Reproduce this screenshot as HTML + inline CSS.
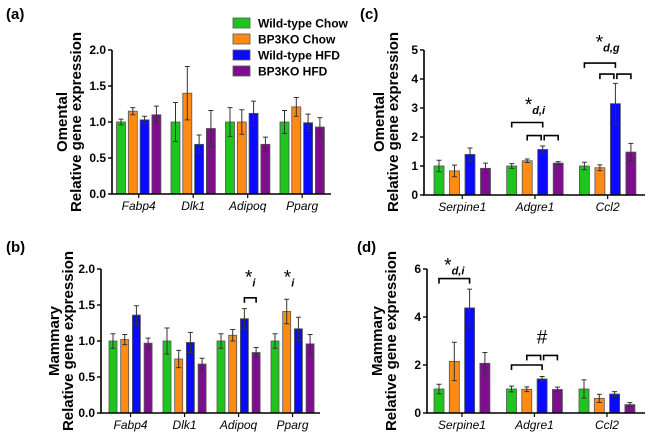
<!DOCTYPE html>
<html><head><meta charset="utf-8">
<style>
html,body{margin:0;padding:0;background:#fff;}
svg{display:block;font-family:"Liberation Sans",Arial,sans-serif;}
</style></head>
<body>
<svg id="fig" width="650" height="437" viewBox="0 0 650 437"></svg>
<script>
const seriesNames = ["Wild-type Chow","BP3KO Chow","Wild-type HFD","BP3KO HFD"];
const genesAB = ["Fabp4","Dlk1","Adipoq","Pparg"];
const genesCD = ["Serpine1","Adgre1","Ccl2"];
// panel (a) omental
const aMean = [[1.0,1.15,1.03,1.10],[1.0,1.40,0.69,0.91],[1.0,1.0,1.12,0.69],[1.0,1.21,0.99,0.93]];
const aErr  = [[0.04,0.05,0.05,0.12],[0.27,0.37,0.13,0.25],[0.2,0.17,0.17,0.1],[0.16,0.13,0.12,0.13]];
// panel (b) mammary
const bMean = [[1.0,1.02,1.36,0.97],[1.0,0.75,0.98,0.68],[1.0,1.08,1.31,0.84],[1.0,1.41,1.17,0.96]];
const bErr  = [[0.1,0.07,0.13,0.07],[0.18,0.12,0.14,0.08],[0.1,0.08,0.14,0.07],[0.1,0.17,0.16,0.13]];
// panel (c) omental
const cMean = [[1.0,0.83,1.4,0.92],[1.0,1.18,1.57,1.1],[1.0,0.94,3.15,1.48]];
const cErr  = [[0.2,0.2,0.22,0.18],[0.08,0.06,0.12,0.05],[0.13,0.1,0.7,0.3]];
// panel (d) mammary
const dMean = [[1.0,2.15,4.38,2.07],[1.0,0.99,1.42,0.98],[1.0,0.61,0.79,0.35]];
const dErr  = [[0.2,0.8,0.78,0.45],[0.12,0.1,0.1,0.1],[0.38,0.17,0.1,0.08]];
const ticksAB = [0,0.5,1.0,1.5,2.0];
const ticksC = [0,1,2,3,4,5];
const ticksD = [0,2,4,6];

const colors = ["#1fc41f","#ff8a14","#0a0aff","#7d0f8c"];
const NS = "http://www.w3.org/2000/svg";
const svg = document.getElementById("fig");
function el(tag, attrs, parent, text){
  const e = document.createElementNS(NS, tag);
  for (const k in attrs) e.setAttribute(k, attrs[k]);
  if (text !== undefined) e.textContent = text;
  (parent||svg).appendChild(e);
  return e;
}

function panel(cfg){
  const g = el("g", {});
  
  
  const Y = v => cfg.y0 - v / cfg.ymax * (cfg.y0 - cfg.ytop);
  const X = (gi, si) => cfg.g0 + gi * cfg.gStep + si * cfg.bStep;
  const lt = el("text", {x: cfg.lx, y: cfg.ly, "font-size": 15, "font-weight": "bold"}, g, "(" + cfg.id + ")");
  
  
  const yl1 = el("text", {x: 0, y: 0, "font-size": 15, "font-weight": "bold", "text-anchor": "middle", transform: `translate(${cfg.yl1x},${cfg.ylc}) rotate(-90)`}, g, cfg.ylab);
  
  
  const yl2 = el("text", {x: 0, y: 0, "font-size": 15, "font-weight": "bold", "text-anchor": "middle", transform: `translate(${cfg.yl2x},${cfg.ylc}) rotate(-90)`}, g, "Relative gene expression");
  
  
  cfg.mean.forEach((grp, gi) => {
    grp.forEach((v, si) => {
      const cx = X(gi, si);
      const r = el("rect", {x: cx - cfg.bw/2, y: Y(v), width: cfg.bw, height: cfg.y0 - Y(v), fill: colors[si], stroke: "#555", "stroke-width": 0.8}, g);
      
      
      const e = cfg.err[gi][si];
      const eb = el("path", {d: `M${cx},${Y(v-e)}V${Y(v+e)}M${cx-2.5},${Y(v-e)}H${cx+2.5}M${cx-2.5},${Y(v+e)}H${cx+2.5}`, stroke: "#333", "stroke-width": 1, fill: "none"}, g);
      
      
    });
    const tx = X(gi, 1.5);
    el("line", {x1: tx, x2: tx, y1: cfg.y0, y2: cfg.y0 + 4, stroke: "#000", "stroke-width": 1.2}, g);
    const cl = el("text", {x: tx, y: cfg.y0 + 16, "font-size": 12, "font-style": "italic", "text-anchor": "middle"}, g, cfg.genes[gi]);
    
    
  });
  const ax = el("path", {d: `M${cfg.ax},${cfg.ytop}V${cfg.y0}H${cfg.axEnd}`, stroke: "#000", "stroke-width": 1.6, fill: "none"}, g);
  
  
  cfg.ticks.forEach(t => {
    el("line", {x1: cfg.ax - 4, x2: cfg.ax, y1: Y(t), y2: Y(t), stroke: "#000", "stroke-width": 1.4}, g);
    const tl = el("text", {x: cfg.ax - 6, y: Y(t) + 4, "font-size": 12, "font-weight": "bold", "text-anchor": "end"}, g, cfg.fmt(t));
    
    
  });
  (cfg.brackets || []).forEach(b => {
    const x1 = X(b[0], b[1]) + (b[4] || 0), x2 = X(b[0], b[2]) + (b[5] || 0), y = Y(b[3]);
    const p = el("path", {d: `M${x1},${y+5}V${y}H${x2}V${y+5}`, stroke: "#000", "stroke-width": 1.6, fill: "none"}, g);
    
    
  });
  (cfg.stars || []).forEach(s => {
    const t = el("text", {x: X(s[0], s[1]), y: Y(s[2]), "font-size": 19, "text-anchor": "middle"}, g);
    
    
    el("tspan", {}, t, s[3]);
    if (s[4]) el("tspan", {"font-size": 11, "font-style": "italic", "font-weight": "bold", dy: 3}, t, s[4]);
  });
}

const f1 = t => t.toFixed(1), f0 = t => String(t);
panel({id:"a", genes:genesAB, mean:aMean, err:aErr, ticks:ticksAB, fmt:f1, ymax:2, y0:194, ytop:50, ax:112, axEnd:331,
  g0:121, gStep:54.5, bStep:11.8, bw:9, lx:6, ly:19, ylab:"Omental", yl1x:67, yl2x:81, ylc:122});
panel({id:"b", genes:genesAB, mean:bMean, err:bErr, ticks:ticksAB, fmt:f1, ymax:2, y0:413, ytop:269, ax:101, axEnd:320,
  g0:113, gStep:54, bStep:11.7, bw:8, lx:6, ly:252, ylab:"Mammary", yl1x:59, yl2x:73, ylc:341,
  brackets:[[2,2,3,1.6]], stars:[[2,2.5,1.8,"*","i"],[3,1.2,1.8,"*","i"]]});
panel({id:"c", genes:genesCD, mean:cMean, err:cErr, ticks:ticksC, fmt:f0, ymax:5, y0:195, ytop:50, ax:424, axEnd:645,
  g0:439, gStep:72.7, bStep:15.5, bw:10, lx:360, ly:19, ylab:"Omental", yl1x:384, yl2x:398, ylc:122,
  brackets:[[1,0,2,2.5],[1,1,2,2.05,0,-1.5],[1,2,3,2.05,1.5,0],[2,0,2,4.55],[2,1,2,4.17,0,-1.5],[2,2,3,4.17,1.5,0]],
  stars:[[1,1.5,2.9,"*","d,i"],[2,1.5,5.05,"*","d,g"]]});
panel({id:"d", genes:genesCD, mean:dMean, err:dErr, ticks:ticksD, fmt:f0, ymax:6, y0:413, ytop:269, ax:427, axEnd:645,
  g0:439, gStep:72.5, bStep:15.3, bw:10, lx:357, ly:252, ylab:"Mammary", yl1x:382, yl2x:396, ylc:341,
  brackets:[[0,0,2,5.6],[1,0,2,2.0],[1,1,2,2.4,0,-1.5],[1,2,3,2.4,1.5,0]],
  stars:[[0,1,5.9,"*","d,i"],[1,2,2.9,"#",""]]});

const lg = el("g", {});


seriesNames.forEach((n, i) => {
  const y = 23 + i * 16;
  const r = el("rect", {x: 233, y: y - 5, width: 17, height: 10, fill: colors[i], stroke: "#555", "stroke-width": 0.8}, lg);
  
  
  const t = el("text", {x: 258, y: y + 4.5, "font-size": 12, "font-weight": "bold"}, lg, n);
  
  
});
</script>
</body></html>
